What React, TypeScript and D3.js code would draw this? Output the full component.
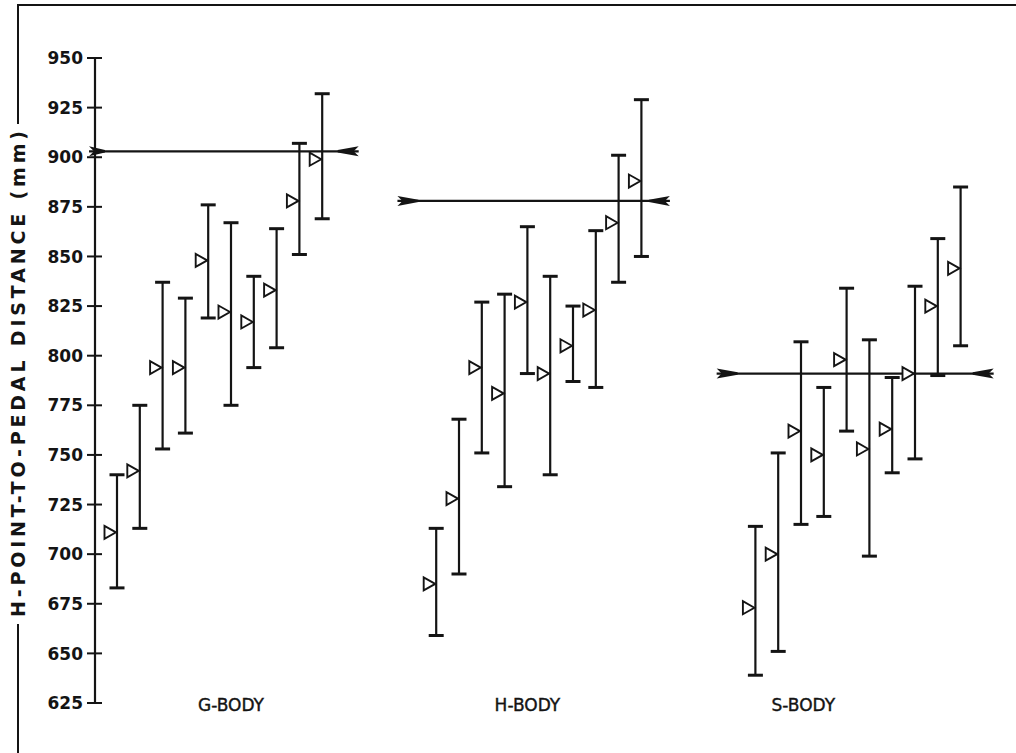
import React from "react";
import * as d3 from "d3";

// ---- Data (mm) ----
const groups = ["G-BODY", "H-BODY", "S-BODY"];
const groupMeanLine = [903, 878, 791];

const gMeans = [711, 742, 794, 794, 848, 822, 817, 833, 878, 899];
const gTops = [740, 775, 837, 829, 876, 867, 840, 864, 907, 932];
const gBottoms = [683, 713, 753, 761, 819, 775, 794, 804, 851, 869];

const hMeans = [685, 728, 794, 781, 827, 791, 805, 823, 867, 888];
const hTops = [713, 768, 827, 831, 865, 840, 825, 863, 901, 929];
const hBottoms = [659, 690, 751, 734, 791, 740, 787, 784, 837, 850];

const sMeans = [673, 700, 762, 750, 798, 753, 763, 791, 825, 844];
const sTops = [714, 751, 807, 784, 834, 808, 789, 835, 859, 885];
const sBottoms = [639, 651, 715, 719, 762, 699, 741, 748, 790, 805];

const yTicks = [625, 650, 675, 700, 725, 750, 775, 800, 825, 850, 875, 900, 925, 950];

const seriesMeans = [gMeans, hMeans, sMeans];
const seriesTops = [gTops, hTops, sTops];
const seriesBottoms = [gBottoms, hBottoms, sBottoms];

// ---- Layout ----
const W = 1016;
const H = 753;
const groupStartSlot = [0, 14, 28];
const labelSlotOffset = [5, 4, 2.1];
const lineExtent: [number, number][] = [
  [-1.23, 10.6],
  [12.3, 24.25],
  [26.3, 38.45],
];

const y = d3.scaleLinear().domain([625, 950]).range([703, 58]);
const x = d3.scaleLinear().domain([0, 37]).range([117, 117 + 37 * 22.8]);
const axisX = 95;
const ink = "#141414";
const font = "'DejaVu Sans', sans-serif";

function endMarker(xe: number, yv: number, dir: number, len = 21) {
  const p = d3.path();
  p.moveTo(xe, yv - 5);
  p.lineTo(xe + dir * 5, yv);
  p.lineTo(xe, yv + 5);
  p.lineTo(xe + dir * len, yv + 1.2);
  p.lineTo(xe + dir * len, yv - 1.2);
  p.closePath();
  return p.toString();
}

export default function App() {
  const bars: React.ReactNode[] = [];
  seriesMeans.forEach((means, gi) => {
    means.forEach((m, i) => {
      const cx = x(groupStartSlot[gi] + i);
      const yt = y(seriesTops[gi][i]);
      const yb = y(seriesBottoms[gi][i]);
      const ym = y(m);
      bars.push(
        <g key={`b${gi}-${i}`}>
          <line x1={cx} x2={cx} y1={yt} y2={yb} stroke={ink} strokeWidth={2.2} />
          <line x1={cx - 7.5} x2={cx + 7.5} y1={yt} y2={yt} stroke={ink} strokeWidth={3} />
          <line x1={cx - 7.5} x2={cx + 7.5} y1={yb} y2={yb} stroke={ink} strokeWidth={3} />
          <path
            d={`M${cx - 1},${ym} L${cx - 12.5},${ym - 6.5} L${cx - 12.5},${ym + 6.5} Z`}
            fill="white"
            stroke={ink}
            strokeWidth={1.9}
          />
        </g>
      );
    });
  });

  const meanLines = groupMeanLine.map((v, gi) => {
    const x1 = gi === 0 ? axisX - 6 : x(lineExtent[gi][0]);
    const x2 = x(lineExtent[gi][1]);
    const yy = y(v);
    return (
      <g key={`ml${gi}`}>
        <line x1={x1} x2={x2} y1={yy} y2={yy} stroke={ink} strokeWidth={2.2} />
        <path d={endMarker(x1, yy, 1, gi === 0 ? 16 : 21)} fill={ink} />
        <path d={endMarker(x2, yy, -1)} fill={ink} />
      </g>
    );
  });

  return (
    <svg
      width={W}
      height={H}
      style={{ position: "absolute", left: 0, top: 0, background: "white" }}
    >
      <rect x={0} y={0} width={W} height={H} fill="white" />
      {/* frame */}
      <line x1={17} x2={W} y1={5} y2={5} stroke={ink} strokeWidth={2} />
      <line x1={18} x2={18} y1={5} y2={124} stroke={ink} strokeWidth={2} />
      <line x1={18} x2={18} y1={624} y2={H} stroke={ink} strokeWidth={2} />
      <text
        transform={`translate(25, ${374}) rotate(-90)`}
        textAnchor="middle"
        fontFamily={font}
        fontWeight="bold"
        fontSize={19}
        fill={ink}
        textLength={486}
        lengthAdjust="spacing"
      >
        H-POINT-TO-PEDAL DISTANCE (mm)
      </text>

      {/* y axis */}
      <line x1={axisX} x2={axisX} y1={y(950)} y2={y(625)} stroke={ink} strokeWidth={2.2} />
      {yTicks.map((t) => (
        <g key={t}>
          <line x1={axisX - 8} x2={axisX + 7} y1={y(t)} y2={y(t)} stroke={ink} strokeWidth={2} />
          <text
            x={83}
            y={y(t)}
            dy="0.36em"
            textAnchor="end"
            fontFamily={font}
            fontWeight="bold"
            fontSize={17}
            fill={ink}
          >
            {t}
          </text>
        </g>
      ))}

      {meanLines}
      {bars}

      {groups.map((g, gi) => (
        <text
          key={g}
          x={x(groupStartSlot[gi] + labelSlotOffset[gi])}
          y={711}
          textAnchor="middle"
          fontFamily={font}
          fontSize={17}
          stroke={ink}
          strokeWidth={0.4}
          fill={ink}
        >
          {g}
        </text>
      ))}
    </svg>
  );
}
